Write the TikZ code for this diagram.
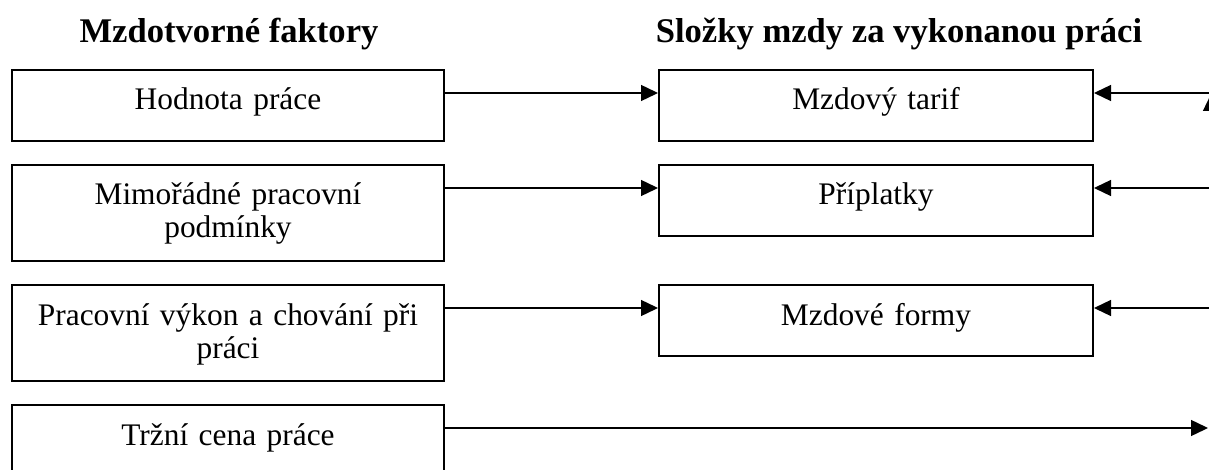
\documentclass[tikz,border=0pt]{standalone}
\usepackage{fontspec}
\setmainfont{Liberation Serif}
\usepackage{tikz}
\usetikzlibrary{arrows.meta,positioning}
\tikzset{
  cell/.style={draw, line width=1pt, inner xsep=0pt, inner ysep=0pt, align=center,
               font=\fontsize{15.7}{16.5}\selectfont, text height=20pt},
  lbox/.style={cell, text width=216pt, anchor=north west},
  rbox/.style={cell, text width=217pt, text depth=15.5pt, anchor=north west},
  head/.style={font=\fontsize{17.3}{20}\selectfont\bfseries, inner sep=0pt, anchor=base},
  link/.style={-{Triangle[length=8.5pt,width=8pt]}, line width=0.7pt}
}

\begin{document}
\begin{tikzpicture}[x=0.5pt, y=-0.5pt]
\useasboundingbox (0,0) rectangle (1209,470);
\clip (0,0) rectangle (1209,470);
\node[head] (hl) at (229,43) {Mzdotvorné faktory};
\node[head] (hr) at (899,43) {Složky mzdy za vykonanou práci};
% factors on the left
\node[lbox, text depth=15.5pt] (f1) at (11,69)  {Hodnota práce};
\node[lbox, text depth=28pt]   (f2) at (11,164) {Mimořádné pracovní\\podmínky};
\node[lbox, text depth=28pt]   (f3) at (11,284) {Pracovní výkon a chování při\\práci};
\node[lbox, text depth=28pt]   (f4) at (11,404) {Tržní cena práce};
% wage components on the right
\node[rbox] (c1) at (658,69)  {Mzdový tarif};
\node[rbox] (c2) at (658,164) {Příplatky};
\node[rbox] (c3) at (658,284) {Mzdové formy};
\coordinate (r1) at (1216,93);
\coordinate (r2) at (1216,188);
\coordinate (r3) at (1216,308);
\coordinate (r4) at (1208,428);
\coordinate (u0) at (1211,160);
\coordinate (u1) at (1211,94);
\foreach \i in {1,2,3}{
  \draw[link] ([yshift=-12pt]f\i.north east) -- ([yshift=-12pt]c\i.north west);
  \draw[link] (r\i) -- ([yshift=-12pt]c\i.north east);
}
\draw[link] ([yshift=-12pt]f4.north east) -- (r4);
\draw[link] (u0) -- (u1);
\end{tikzpicture}
\end{document}
